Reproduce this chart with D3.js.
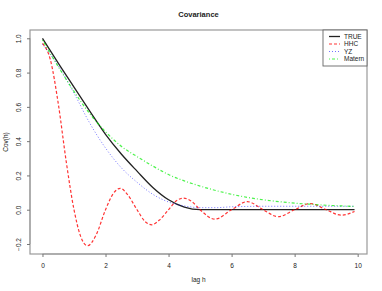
<!DOCTYPE html>
<html>
<head>
<meta charset="utf-8">
<script src="https://cdn.jsdelivr.net/npm/d3@7"></script>
<style>
  body { margin: 0; background: #fff; }
  text { font-family: "Liberation Sans", Arial, Helvetica, sans-serif; fill: #222; }
</style>
</head>
<body>
<div id="chart"></div>
<script>
// lag grid shared by TRUE, YZ and Matern
const lag = [0, 0.5, 1, 1.5, 2, 2.5, 3, 3.5, 4, 4.5, 5, 5.5, 6, 6.5, 7, 7.5, 8, 8.5, 9, 9.5, 9.9];
const trueCov = [1, 0.855, 0.715, 0.575, 0.44, 0.325, 0.225, 0.13, 0.058, 0.015, 0, 0, 0, 0, 0, 0, 0, 0, 0, 0, 0];
const yzCov = [0.965, 0.84, 0.68, 0.505, 0.36, 0.245, 0.16, 0.09, 0.045, 0.022, 0.012, 0.012, 0.017, 0.019, 0.02, 0.02, 0.02, 0.02, 0.02, 0.02, 0.02];
const maternCov = [0.99, 0.835, 0.69, 0.56, 0.455, 0.37, 0.31, 0.255, 0.205, 0.168, 0.138, 0.112, 0.09, 0.072, 0.058, 0.047, 0.038, 0.032, 0.026, 0.022, 0.019];

// HHC oscillates, so it gets its own lags
const hhcLag = [0, 0.25, 0.5, 0.75, 1, 1.2, 1.43, 1.7, 2, 2.25, 2.47, 2.7, 3, 3.25, 3.47, 3.7, 4, 4.25, 4.48, 4.75, 5, 5.47, 6, 6.5, 7, 7.48, 8, 8.5, 9, 9.48, 9.9];
const hhcCov = [0.97, 0.875, 0.62, 0.285, 0, -0.15, -0.21, -0.148, 0, 0.095, 0.125, 0.088, 0, -0.068, -0.088, -0.062, 0, 0.052, 0.067, 0.046, 0, -0.055, 0, 0.047, 0, -0.041, 0, 0.036, 0, -0.032, -0.01];

const xTicks = [0, 2, 4, 6, 8, 10];
const yTicks = [-0.2, 0, 0.2, 0.4, 0.6, 0.8, 1.0];
const legendLabels = ["TRUE", "HHC", "YZ", "Matern"];

const width = 382, height = 291;
const plot = { left: 30, right: 367, top: 30, bottom: 254 };

const series = [
    { name: "TRUE", x: lag, y: trueCov, color: "#222222", dash: null, w: 1.3, op: 1 },
    { name: "HHC", x: hhcLag, y: hhcCov, color: "#ff0000", dash: "3,2", w: 1.2, op: 0.8 },
    { name: "YZ", x: lag, y: yzCov, color: "#0000ff", dash: "1,2", w: 1, op: 0.55 },
    { name: "Matern", x: lag, y: maternCov, color: "#00ee00", dash: "1,2,3,2", w: 1.2, op: 0.7 }
];

// R-style 4% padding on the data range
const xMin = 0, xMax = 9.9;
const yMin = d3.min(hhcCov), yMax = 1;
const xPad = (xMax - xMin) * 0.04, yPad = (yMax - yMin) * 0.04;

const x = d3.scaleLinear().domain([xMin - xPad, xMax + xPad]).range([plot.left, plot.right]);
const y = d3.scaleLinear().domain([yMin - yPad, yMax + yPad]).range([plot.bottom, plot.top]);

const svg = d3.select("#chart").append("svg").attr("width", width).attr("height", height);

const line = d3.line().x(d => x(d[0])).y(d => y(d[1])).curve(d3.curveMonotoneX);

svg.selectAll("path.series")
    .data(series)
    .join("path")
    .attr("class", "series")
    .attr("d", s => line(s.x.map((v, i) => [v, s.y[i]])))
    .attr("fill", "none")
    .attr("stroke", s => s.color)
    .attr("stroke-opacity", s => s.op)
    .attr("stroke-width", s => s.w)
    .attr("stroke-dasharray", s => s.dash);

// box
svg.append("rect")
    .attr("x", plot.left).attr("y", plot.top)
    .attr("width", plot.right - plot.left).attr("height", plot.bottom - plot.top)
    .attr("fill", "none").attr("stroke", "#999").attr("stroke-width", 1.2);

// axes, R style (ticks outside)
const xAxis = d3.axisBottom(x).tickValues(xTicks).tickSize(3).tickPadding(6).tickFormat(d3.format("d"));
const xG = svg.append("g").attr("transform", `translate(0,${plot.bottom})`).call(xAxis);
xG.select(".domain").attr("d", `M${x(0)},0H${x(10)}`).attr("stroke", "#999");
xG.selectAll(".tick line").attr("stroke", "#777");
xG.selectAll("text").attr("font-size", 6.5).style("font-family", "Liberation Sans, Arial, sans-serif").attr("fill", "#222");

const yAxis = d3.axisLeft(y).tickValues(yTicks).tickSize(3).tickFormat(d3.format(".1f"));
const yG = svg.append("g").attr("transform", `translate(${plot.left},0)`).call(yAxis);
yG.select(".domain").attr("d", `M0,${y(-0.2)}V${y(1)}`).attr("stroke", "#999");
yG.selectAll(".tick line").attr("stroke", "#777");
yG.selectAll("text")
    .attr("font-size", 6.5)
    .attr("fill", "#222")
    .style("font-family", "Liberation Sans, Arial, sans-serif")
    .attr("x", null).attr("dy", null)
    .attr("text-anchor", "middle")
    .attr("transform", "translate(-9,0) rotate(-90)");

// titles
svg.append("text").attr("x", (plot.left + plot.right) / 2).attr("y", 17)
    .attr("text-anchor", "middle").attr("font-size", 7.5).attr("font-weight", "bold").text("Covariance");
svg.append("text").attr("x", (plot.left + plot.right) / 2).attr("y", 282)
    .attr("text-anchor", "middle").attr("font-size", 6.5).text("lag h");
svg.append("text").attr("transform", `translate(8,${(plot.top + plot.bottom) / 2}) rotate(-90)`)
    .attr("text-anchor", "middle").attr("font-size", 6.5).text("Cov(h)");

// legend
const legendBox = { x: 323, y: plot.top, w: plot.right - 323, h: 36 };
const legendG = svg.append("g").attr("class", "legendWrapper");
legendG.append("rect")
    .attr("x", legendBox.x).attr("y", legendBox.y)
    .attr("width", legendBox.w).attr("height", legendBox.h)
    .attr("fill", "#fff").attr("stroke", "#666").attr("stroke-width", 0.9);

const legend = legendG.selectAll("g.legendItem")
    .data(series)
    .join("g")
    .attr("class", "legendItem")
    .attr("transform", (d, i) => `translate(${legendBox.x}, ${legendBox.y + 6.5 + i * 7.5})`);

legend.append("line")
    .attr("x1", 6).attr("x2", 17)
    .attr("stroke", d => d.color)
    .attr("stroke-opacity", d => d.op)
    .attr("stroke-width", d => d.w)
    .attr("stroke-dasharray", d => d.dash);

legend.append("text")
    .attr("x", 21).attr("dy", "0.35em")
    .attr("font-size", 6.5)
    .text((d, i) => legendLabels[i]);
</script>
</body>
</html>
